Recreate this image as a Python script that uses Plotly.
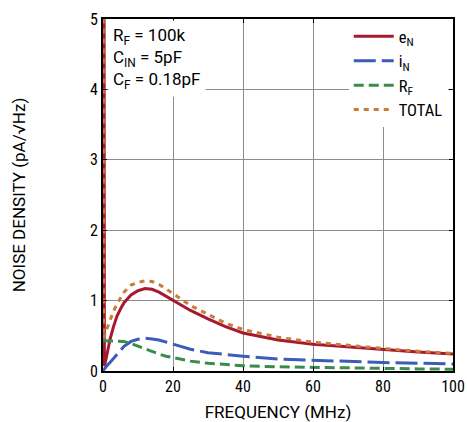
import plotly.graph_objects as go

# ---- data ----
f_en = [0.3, 0.3, 0.4, 1, 2, 3, 4, 5, 6, 8, 10, 12, 13, 14, 16, 18, 20, 25, 30, 35, 40, 50, 60, 70, 80, 90, 100]
v_en = [6.0, 0.5, 0.07, 0.2, 0.45, 0.63, 0.78, 0.88, 0.97, 1.08, 1.14, 1.17, 1.17, 1.16, 1.12, 1.06, 1.0, 0.86, 0.74, 0.63, 0.54, 0.44, 0.38, 0.34, 0.30, 0.27, 0.24]

f_in = [0, 1, 2, 3, 4, 6, 8, 10, 12, 13, 14, 16, 18, 20, 25, 30, 35, 40, 50, 60, 70, 80, 90, 100]
v_in = [0.0, 0.07, 0.12, 0.18, 0.24, 0.35, 0.42, 0.45, 0.465, 0.465, 0.455, 0.44, 0.41, 0.38, 0.31, 0.26, 0.23, 0.21, 0.17, 0.15, 0.135, 0.12, 0.11, 0.10]

f_rf = [0, 2, 4, 6, 8, 10, 12, 14, 16, 18, 20, 25, 30, 35, 40, 50, 60, 70, 80, 90, 100]
v_rf = [0.43, 0.43, 0.43, 0.42, 0.39, 0.35, 0.31, 0.27, 0.24, 0.21, 0.19, 0.14, 0.11, 0.09, 0.075, 0.06, 0.05, 0.045, 0.035, 0.03, 0.025]

f_tot = [0.05, 0.05, 0.15, 1, 2, 3, 4, 6, 8, 10, 12, 13, 14, 16, 18, 20, 25, 30, 35, 40, 50, 60, 70, 80, 90, 100]
v_tot = [6.0, 0.5, 0.46, 0.58, 0.72, 0.85, 0.95, 1.12, 1.22, 1.26, 1.28, 1.28, 1.27, 1.23, 1.16, 1.10, 0.93, 0.80, 0.68, 0.59, 0.48, 0.41, 0.36, 0.32, 0.28, 0.25]

x_ticks = [0, 20, 40, 60, 80, 100]
y_ticks = [0, 1, 2, 3, 4, 5]

COND = "Roboto Condensed, Roboto, sans-serif"
REG = "Roboto, sans-serif"

RED = "#a6192e"
BLUE = "#3b5cb8"
GREEN = "#3a8c4a"
ORANGE = "#c97b3a"

fig = go.Figure()
fig.add_trace(go.Scatter(x=f_en, y=v_en, mode="lines", name="e<sub>N</sub>",
                         line=dict(color=RED, width=3)))
fig.add_trace(go.Scatter(x=f_in, y=v_in, mode="lines", name="i<sub>N</sub>",
                         line=dict(color=BLUE, width=3, dash="22px,6px")))
fig.add_trace(go.Scatter(x=f_rf, y=v_rf, mode="lines", name="R<sub>F</sub>",
                         line=dict(color=GREEN, width=3, dash="10px,5px")))
fig.add_trace(go.Scatter(x=f_tot, y=v_tot, mode="lines", name="TOTAL",
                         line=dict(color=ORANGE, width=3, dash="5px,5px")))

fig.update_layout(
    width=467, height=422,
    margin=dict(l=103, r=14, t=19, b=51),
    paper_bgcolor="white", plot_bgcolor="white",
    font=dict(family=COND, size=18, color="black"),
    showlegend=True,
    legend=dict(x=0.985, y=1.0, xanchor="right", yanchor="top",
                bgcolor="white", borderwidth=0, font=dict(family=COND, size=16.5),
                tracegroupgap=0, itemwidth=40),
    annotations=[dict(
        x=0.005, y=1.0, xref="paper", yref="paper", xanchor="left", yanchor="top",
        align="left", showarrow=False, bgcolor="white", borderpad=4,
        xshift=3, yshift=-1,
        text="R<sub>F</sub> = 100k<br>C<sub>IN</sub> = 5pF<br>C<sub>F</sub> = 0.18pF",
        font=dict(family=REG, size=17),
    )],
)
fig.update_xaxes(range=[0, 100], tickvals=x_ticks, ticktext=[str(v) for v in x_ticks],
                 showgrid=True, gridcolor="#8c8c8c", gridwidth=1,
                 showline=True, linecolor="black", linewidth=2, mirror="ticks",
                 ticks="inside", ticklen=4, tickcolor="black",
                 tickfont=dict(family=COND, size=16), zeroline=False, automargin=False,
                 ticklabeloverflow="allow",
                 title=dict(text="FREQUENCY (MHz)", font=dict(family=REG, size=17), standoff=13))
fig.update_yaxes(range=[0, 5], tickvals=y_ticks, ticktext=[str(v) for v in y_ticks],
                 showgrid=True, gridcolor="#8c8c8c", gridwidth=1,
                 showline=True, linecolor="black", linewidth=2, mirror="ticks",
                 ticks="inside", ticklen=4, tickcolor="black",
                 tickfont=dict(family=COND, size=16), zeroline=False, automargin=False,
                 ticklabeloverflow="allow",
                 title=dict(text="NOISE DENSITY (pA/√Hz)", font=dict(family=REG, size=17), standoff=60))

# remove the default page margin so the 467x422 figure fills the window exactly
fig.write_html("out.html", config={"displayModeBar": False},
               post_script="document.body.style.margin='0';document.body.style.overflow='hidden';")
